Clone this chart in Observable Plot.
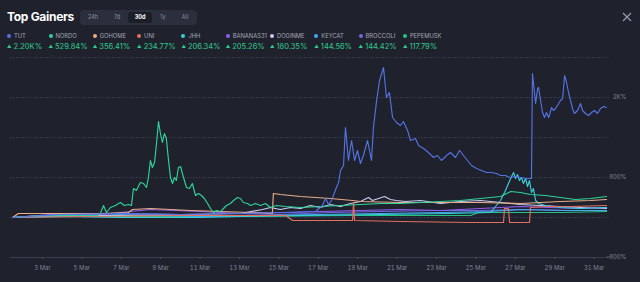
<!DOCTYPE html>
<html><head><meta charset="utf-8">
<script src="https://cdn.jsdelivr.net/npm/d3@7"></script>
<script src="https://cdn.jsdelivr.net/npm/@observablehq/plot@0.6"></script>
<style>
html,body{margin:0;padding:0;background:#1f212c;}
body{width:640px;height:282px;overflow:hidden;position:relative;font-family:Inter,"Noto Sans",sans-serif;}
#title{position:absolute;left:7px;top:9px;font-size:12px;font-weight:700;color:#ffffff;letter-spacing:-0.3px;line-height:16px;}
#tabs{position:absolute;left:80px;top:10px;width:117px;height:15px;background:#2b2e3b;border-radius:4px;}
#tabs span{position:absolute;top:0;height:15px;line-height:15px;font-size:5.5px;color:#8a8e9f;transform:translateX(-50%);}
#tabs span.sel{background:#1c1e28;color:#fff;font-weight:700;width:24px;text-align:center;top:2px;height:11px;line-height:11px;border-radius:3px;}
#close{position:absolute;left:622px;top:12px;width:10px;height:10px;}
#legend{position:absolute;left:7px;top:31px;display:flex;}
.item{flex:none;width:44.3px;}
.item:first-child{width:41.5px;}
.nm{font-size:5.8px;color:#a3a7b7;white-space:nowrap;height:9px;line-height:9px;}
.dot{display:inline-block;width:4px;height:4px;border-radius:50%;margin-right:3px;vertical-align:middle;position:relative;top:-0.5px;}
.val{font-size:7.5px;color:#2fca8c;white-space:nowrap;margin-top:2px;line-height:10px;}
.val i{font-style:normal;font-size:4.5px;margin-right:2px;position:relative;top:-1px;}
#chart{position:absolute;left:0;top:55px;}
</style>
</head><body>
<div id="title">Top Gainers</div>
<div id="tabs"></div>
<svg id="close" viewBox="0 0 10 10"><path d="M1 1L9 9M9 1L1 9" stroke="#9a9eae" stroke-width="1.1"/></svg>
<div id="legend"></div>
<div id="chart"></div>
<script>
// ---- data ----
const tabs = ["24h","7d","30d","1y","All"];
const selectedTab = "30d";
const names = ["TUT","NORDO","GOHOME","UNI","JHH","BANANAS31","DOGINME","KEYCAT","BROCCOLI","PEPEMUSK"];
const gains = ["2.20K%","529.84%","356.41%","234.77%","206.34%","205.26%","180.35%","144.56%","144.42%","117.79%"];
const colors = ["#5572e2","#2ed39a","#e9ae88","#e3705d","#36d0d9","#8f5ef2","#c9cbf3","#46a8f3","#7068dc","#27c283"];

const xTicks = [3,5,7,9,11,13,15,17,19,21,23,25,27,29,31];
const xTickLabels = ["3 Mar","5 Mar","7 Mar","9 Mar","11 Mar","13 Mar","15 Mar","17 Mar","19 Mar","21 Mar","23 Mar","25 Mar","27 Mar","29 Mar","31 Mar"];
const gridValues = [0,800,1600,2400,3200];
const yTicks = [-800,800,2400];
const yTickLabels = ["-800%","800%","2K%"];

// [day of March, % change]
const tut = [[1.48,0],[3.91,60],[6.96,80],[10.01,60],[13.05,80],[15.59,100],[16.86,120],[17.21,240],[17.37,380],[17.52,260],[17.67,340],[17.92,600],[18.03,700],[18.13,940],[18.28,1040],[18.38,1800],[18.53,1140],[18.69,1540],[18.84,1140],[18.99,1340],[19.14,1080],[19.29,1240],[19.50,1540],[19.70,1140],[19.80,1800],[19.96,2340],[20.11,2740],[20.31,3000],[20.46,2400],[20.61,2500],[20.77,2000],[20.97,1900],[21.17,1840],[21.32,1920],[21.53,1740],[21.68,1540],[21.93,1580],[22.09,1440],[22.34,1380],[22.59,1300],[22.85,1200],[23.05,1240],[23.25,1140],[23.51,1240],[23.71,1300],[23.96,1200],[24.17,1340],[24.37,1240],[24.57,1140],[24.78,1040],[25.03,980],[25.28,940],[25.54,900],[25.79,900],[26.05,880],[26.25,840],[26.50,840],[26.71,800],[27.01,820],[27.26,800],[27.57,780],[27.82,780],[27.87,2880],[28.03,2280],[28.13,2580],[28.18,2600],[28.28,2340],[28.38,2100],[28.48,2000],[28.58,2100],[28.69,2000],[28.74,2060],[28.84,2200],[28.94,2140],[29.04,2180],[29.14,2240],[29.29,2340],[29.40,2380],[29.50,2840],[29.60,2700],[29.70,2500],[29.80,2340],[29.90,2180],[30.00,2080],[30.16,2140],[30.31,2280],[30.41,2140],[30.56,2080],[30.72,2040],[30.87,2100],[31.02,2140],[31.17,2080],[31.32,2180],[31.48,2220],[31.63,2200]];
const nordo = [[1.48,0],[2.90,40],[4.42,40],[5.79,40],[5.94,80],[6.10,240],[6.25,100],[6.45,200],[6.71,240],[6.86,280],[6.96,300],[7.16,240],[7.37,260],[7.52,240],[7.62,580],[7.77,540],[7.97,700],[8.13,680],[8.28,600],[8.38,800],[8.48,1140],[8.58,1000],[8.69,1100],[8.79,1480],[8.89,1920],[8.99,1680],[9.09,1500],[9.19,1680],[9.29,1580],[9.40,1140],[9.50,800],[9.60,680],[9.70,800],[9.80,740],[9.90,1000],[10.01,1020],[10.16,800],[10.31,600],[10.46,580],[10.61,680],[10.77,440],[10.92,480],[11.07,440],[11.22,380],[11.38,280],[11.53,180],[11.68,100],[11.83,140],[12.04,120],[12.34,240],[12.54,280],[12.70,340],[12.90,400],[13.05,380],[13.20,300],[13.41,280],[13.56,240],[13.81,280],[14.07,240],[14.32,280],[14.57,200],[14.88,240],[15.34,220],[16.10,200],[17.11,220],[18.13,240],[19.14,260],[20.16,280],[21.17,280],[22.19,300],[23.20,320],[24.22,340],[25.23,380],[26.25,420],[26.76,520],[27.26,500],[27.77,460],[28.53,440],[29.29,400],[30.05,360],[30.82,380],[31.63,420]];
const gohome = [[1.48,0],[1.78,80],[3.91,80],[5.94,80],[7.37,100],[7.57,160],[8.48,180],[9.50,160],[10.51,140],[12.04,120],[13.56,100],[14.67,80],[14.72,480],[15.08,460],[16.10,420],[17.62,380],[18.74,340],[19.14,320],[21.17,300],[23.20,300],[25.23,300],[27.26,280],[29.29,320],[30.82,340],[31.63,360]];
const uni = [[1.48,0],[5.00,20],[10.00,40],[15.34,40],[15.70,-60],[18.74,-60],[18.79,300],[18.84,-60],[21.17,-80],[24.73,-100],[26.40,-100],[26.45,180],[26.65,180],[26.71,-100],[27.72,-100],[27.77,200],[28.53,220],[29.80,220],[31.63,240]];
const jhh = [[1.48,0],[3.91,20],[6.96,0],[11.02,0],[13.05,20],[16.10,40],[20.16,60],[23.71,80],[25.74,100],[26.25,340],[26.50,540],[26.65,680],[26.81,820],[26.91,900],[27.01,780],[27.11,860],[27.21,740],[27.31,800],[27.41,680],[27.52,780],[27.62,620],[27.72,740],[27.82,500],[27.92,580],[28.03,340],[28.18,280],[28.53,240],[29.29,200],[30.31,180],[31.63,200]];
const bananas31 = [[1.48,0],[3.41,60],[5.94,60],[7.47,120],[8.48,160],[9.75,140],[11.02,120],[13.05,80],[15.08,100],[17.11,120],[19.14,140],[21.17,160],[23.20,140],[25.23,180],[27.26,220],[28.79,200],[30.31,180],[31.63,200]];
const doginme = [[1.48,0],[3.91,40],[6.96,40],[10.01,60],[13.05,80],[14.17,160],[14.57,200],[15.08,160],[15.59,200],[16.10,180],[16.60,240],[17.11,200],[17.62,260],[18.13,220],[18.63,280],[19.14,320],[19.55,400],[19.75,340],[20.06,380],[20.36,420],[20.66,360],[20.97,340],[21.42,320],[22.19,340],[23.20,280],[24.22,320],[25.23,340],[26.25,300],[27.26,260],[28.28,240],[29.29,220],[30.31,200],[31.63,180]];
const keycat = [[1.48,0],[2.90,20],[4.93,40],[6.96,60],[8.99,40],[11.02,20],[14.07,40],[17.11,60],[20.16,80],[23.20,100],[25.74,120],[27.26,160],[29.29,140],[31.63,140]];
const broccoli = [[1.48,0],[2.90,40],[5.44,80],[7.97,80],[10.01,60],[12.54,40],[15.08,60],[17.62,100],[20.16,120],[22.70,140],[25.23,140],[27.77,160],[29.80,140],[31.63,140]];
const pepemusk = [[1.48,0],[3.91,20],[8.48,20],[13.56,20],[18.63,40],[24.73,40],[25.13,100],[27.26,100],[29.29,100],[31.63,120]];

const seriesValues = [tut,nordo,gohome,uni,jhh,bananas31,doginme,keycat,broccoli,pepemusk];

// ---- header ----
const tabsEl = document.getElementById("tabs");
const tabCenters = [13,37,60,83,105];
tabs.forEach((t,i)=>{
  const s = document.createElement("span");
  s.textContent = t;
  s.style.left = tabCenters[i] + "px";
  if (t === selectedTab) s.className = "sel";
  tabsEl.appendChild(s);
});
const legendEl = document.getElementById("legend");
names.forEach((n,i)=>{
  const it = document.createElement("div");
  it.className = "item";
  it.innerHTML = `<div class="nm"><span class="dot" style="background:${colors[i]}"></span>${n}</div><div class="val"><i>▲</i>${gains[i]}</div>`;
  legendEl.appendChild(it);
});

// ---- chart ----
const rows = [];
seriesValues.forEach((arr,i)=>arr.forEach(([d,v])=>rows.push({name:names[i], day:d, pct:v})));
const drawOrder = names.slice().reverse();

const lineMarks = drawOrder.map(n => Plot.line(rows.filter(r=>r.name===n), {
  x:"day", y:"pct", stroke: colors[names.indexOf(n)], strokeWidth:1.15
}));

const yLabelRows = yTicks.map((v,i)=>({v, label:yTickLabels[i]}));

const chart = Plot.plot({
  width:640, height:227,
  marginLeft:10, marginRight:30, marginTop:2, marginBottom:25,
  style:{background:"transparent", color:"#7d8294", fontSize:"6px", fontFamily:"Inter, 'Noto Sans', sans-serif", overflow:"visible"},
  x:{domain:[1.38,31.83]},
  y:{domain:[-800,3200], axis:null},
  marks:[
    Plot.ruleY(gridValues, {stroke:"#3a3d4e", strokeWidth:1, strokeDasharray:"1.5,1.5"}),
    Plot.ruleY([-800], {stroke:"#3b3e4d", strokeWidth:1}),
    ...lineMarks,
    Plot.axisX({ticks:xTicks, tickFormat:(d)=>xTickLabels[xTicks.indexOf(d)], tickSize:2, tickPadding:6, stroke:"#4a4d5c", fill:"#7d8294", fontSize:6, label:null}),
    Plot.text(yLabelRows, {y:"v", text:"label", frameAnchor:"right", textAnchor:"end", dx:16, fill:"#7d8294", fontSize:6})
  ]
});
document.getElementById("chart").appendChild(chart);
</script>
</body></html>
